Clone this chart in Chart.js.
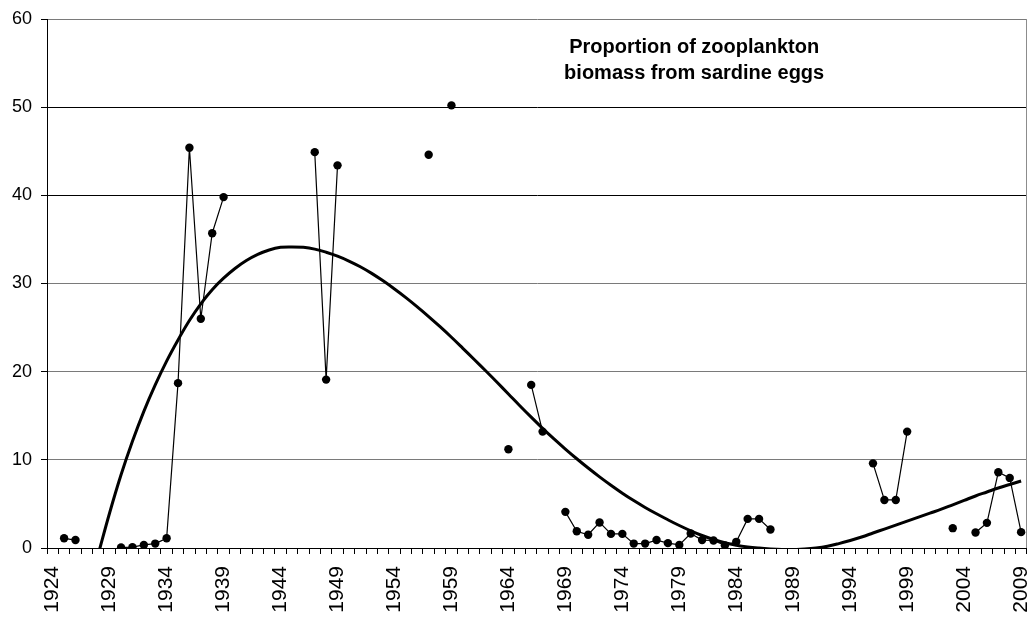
<!DOCTYPE html>
<html>
<head>
<meta charset="utf-8">
<title>Sardine eggs in zooplankton biomass</title>
<script src="https://cdn.jsdelivr.net/npm/chart.js@4.4.1/dist/chart.umd.min.js"></script>
<style>
  html, body { margin: 0; padding: 0; background: #ffffff; }
  #wrap { width: 1031px; height: 617px; }
</style>
</head>
<body>
<div id="wrap"><canvas id="chart" width="1031" height="617"></canvas></div>
<script>
// Years on the category axis
const years = [
  1924, 1925, 1926, 1927, 1928, 1929, 1930, 1931, 1932, 1933,
  1934, 1935, 1936, 1937, 1938, 1939, 1940, 1941, 1942, 1943,
  1944, 1945, 1946, 1947, 1948, 1949, 1950, 1951, 1952, 1953,
  1954, 1955, 1956, 1957, 1958, 1959, 1960, 1961, 1962, 1963,
  1964, 1965, 1966, 1967, 1968, 1969, 1970, 1971, 1972, 1973,
  1974, 1975, 1976, 1977, 1978, 1979, 1980, 1981, 1982, 1983,
  1984, 1985, 1986, 1987, 1988, 1989, 1990, 1991, 1992, 1993,
  1994, 1995, 1996, 1997, 1998, 1999, 2000, 2001, 2002, 2003,
  2004, 2005, 2006, 2007, 2008, 2009
];

// Years that carry a printed tick label
const labelledYears = [1924, 1929, 1934, 1939, 1944, 1949, 1954, 1959, 1964, 1969,
                       1974, 1979, 1984, 1989, 1994, 1999, 2004, 2009];

// Sampled years and the share (%) of zooplankton biomass made up of sardine eggs
const sampleYears = [
  1925, 1926,
  1930, 1931, 1932, 1933, 1934, 1935, 1936, 1937, 1938, 1939,
  1947, 1948, 1949,
  1957, 1959,
  1964, 1966, 1967,
  1969, 1970, 1971, 1972, 1973, 1974, 1975, 1976, 1977, 1978,
  1979, 1980, 1981, 1982, 1983, 1984, 1985, 1986, 1987,
  1996, 1997, 1998, 1999,
  2003, 2005, 2006, 2007, 2008, 2009
];
const eggShare = [
  1.1, 0.9,
  0.05, 0.1, 0.35, 0.5, 1.1, 18.7, 45.4, 26.0, 35.7, 39.8,
  44.9, 19.1, 43.4,
  44.6, 50.2,
  11.2, 18.5, 13.2,
  4.1, 1.9, 1.5, 2.9, 1.6, 1.6, 0.5, 0.5, 0.9, 0.55,
  0.35, 1.65, 0.9, 0.85, 0.3, 0.7, 3.3, 3.3, 2.1,
  9.6, 5.45, 5.45, 13.2,
  2.25, 1.75, 2.85, 8.6, 7.95, 1.8
];

// Polynomial trend curve, one value per year from 1928
const trendYears = [
  1928, 1929, 1930, 1931, 1932, 1933, 1934, 1935, 1936, 1937,
  1938, 1939, 1940, 1941, 1942, 1943, 1944, 1945, 1946, 1947,
  1948, 1949, 1950, 1951, 1952, 1953, 1954, 1955, 1956, 1957,
  1958, 1959, 1960, 1961, 1962, 1963, 1964, 1965, 1966, 1967,
  1968, 1969, 1970, 1971, 1972, 1973, 1974, 1975, 1976, 1977,
  1978, 1979, 1980, 1981, 1982, 1983, 1984, 1985, 1986, 1987,
  1988, 1989, 1990, 1991, 1992, 1993, 1994, 1995, 1996, 1997,
  1998, 1999, 2000, 2001, 2002, 2003, 2004, 2005, 2006, 2007,
  2008, 2009
];
const trendValues = [
  -0.7, 4.0, 8.3, 12.1, 15.5, 18.5, 21.2, 23.6, 25.8, 27.7,
  29.3, 30.6, 31.7, 32.6, 33.3, 33.8, 34.1, 34.15, 34.1, 33.9,
  33.55, 33.1, 32.55, 31.9, 31.15, 30.3, 29.38, 28.4, 27.35, 26.25,
  25.1, 23.9, 22.65, 21.38, 20.1, 18.8, 17.47, 16.14, 14.84, 13.57,
  12.37, 11.22, 10.12, 9.07, 8.07, 7.12, 6.22, 5.38, 4.6, 3.88,
  3.2, 2.55, 1.95, 1.42, 0.97, 0.6, 0.32, 0.12, -0.01, -0.1,
  -0.16, -0.18, -0.12, 0.0, 0.2, 0.5, 0.85, 1.25, 1.7, 2.15,
  2.6, 3.05, 3.5, 3.95, 4.4, 4.9, 5.4, 5.9, 6.35, 6.8,
  7.2, 7.6
];

const yTicks = [0, 10, 20, 30, 40, 50, 60];
const titleLines = ['Proportion of zooplankton', 'biomass from sardine eggs'];

// Spread sparse (year, value) lists over the full year axis; missing years stay null
function alignToYears(keys, values) {
  const lookup = new Map(keys.map((k, i) => [k, values[i]]));
  return years.map(y => (lookup.has(y) ? lookup.get(y) : null));
}

const FONT = "'Liberation Sans', Arial, Helvetica, sans-serif";

// Light frame edge on the right of the plot
const plotFrame = {
  id: 'plotFrame',
  afterDraw(chart) {
    const { ctx, chartArea } = chart;
    ctx.save();
    ctx.strokeStyle = '#8c8c8c';
    ctx.lineWidth = 1;
    const x = Math.round(chartArea.right) - 0.5;
    ctx.beginPath();
    ctx.moveTo(x, chartArea.top);
    ctx.lineTo(x, chartArea.bottom);
    ctx.stroke();
    ctx.restore();
  }
};

// Two-line caption placed inside the plot area
const innerCaption = {
  id: 'innerCaption',
  afterDraw(chart) {
    const { ctx, chartArea } = chart;
    ctx.save();
    ctx.fillStyle = '#000';
    ctx.font = "bold 20px " + FONT;
    ctx.textAlign = 'center';
    ctx.textBaseline = 'alphabetic';
    const cx = chartArea.left + (chartArea.right - chartArea.left) * 0.6605;
    titleLines.forEach((line, i) => {
      ctx.fillText(line, cx, chartArea.top + 34 + i * 26);
    });
    ctx.restore();
  }
};

new Chart(document.getElementById('chart'), {
  type: 'line',
  data: {
    labels: years,
    datasets: [
      {
        label: 'Sardine eggs (%)',
        data: alignToYears(sampleYears, eggShare),
        borderColor: '#000',
        backgroundColor: '#000',
        borderWidth: 1.2,
        pointRadius: 4.2,
        pointHoverRadius: 4.2,
        pointBorderWidth: 0,
        pointBackgroundColor: '#000',
        spanGaps: false,
        tension: 0,
        order: 1
      },
      {
        label: 'Trend',
        data: alignToYears(trendYears, trendValues),
        borderColor: '#000',
        borderWidth: 3,
        pointRadius: 0,
        pointHoverRadius: 0,
        tension: 0.4,
        spanGaps: false,
        order: 2
      }
    ]
  },
  options: {
    responsive: false,
    animation: false,
    events: [],
    layout: { padding: { top: 19, right: 3, left: 0, bottom: 0 } },
    plugins: {
      legend: { display: false },
      title: { display: false },
      tooltip: { enabled: false }
    },
    scales: {
      x: {
        type: 'category',
        offset: true,
        border: { display: true, color: '#000', width: 1 },
        grid: {
          offset: true,
          drawOnChartArea: false,
          drawTicks: true,
          tickLength: 6,
          tickColor: '#000',
          color: '#000'
        },
        ticks: {
          autoSkip: false,
          minRotation: 90,
          maxRotation: 90,
          padding: 12,
          color: '#000',
          font: { family: FONT, size: 21 },
          callback(value, index) {
            const y = years[index];
            return labelledYears.includes(y) ? String(y) : '';
          }
        },
        afterFit(scale) {
          scale.height = 69;
          scale.paddingLeft = 0;
          scale.paddingRight = 0;
        }
      },
      y: {
        type: 'linear',
        min: 0,
        max: 60,
        border: { display: true, color: '#000', width: 1 },
        grid: {
          drawTicks: true,
          tickLength: 6,
          tickColor: '#000',
          lineWidth: 1,
          color(ctx) {
            const v = ctx.tick ? ctx.tick.value : 0;
            return (v === 40 || v === 50) ? '#000' : '#7a7a7a';
          }
        },
        afterBuildTicks(scale) {
          scale.ticks = yTicks.map(v => ({ value: v }));
        },
        ticks: {
          padding: 9,
          color: '#000',
          font: { family: FONT, size: 18 }
        },
        afterFit(scale) {
          scale.width = 47;
          scale.paddingTop = 0;
          scale.paddingBottom = 0;
        }
      }
    }
  },
  plugins: [plotFrame, innerCaption]
});
</script>
</body>
</html>
